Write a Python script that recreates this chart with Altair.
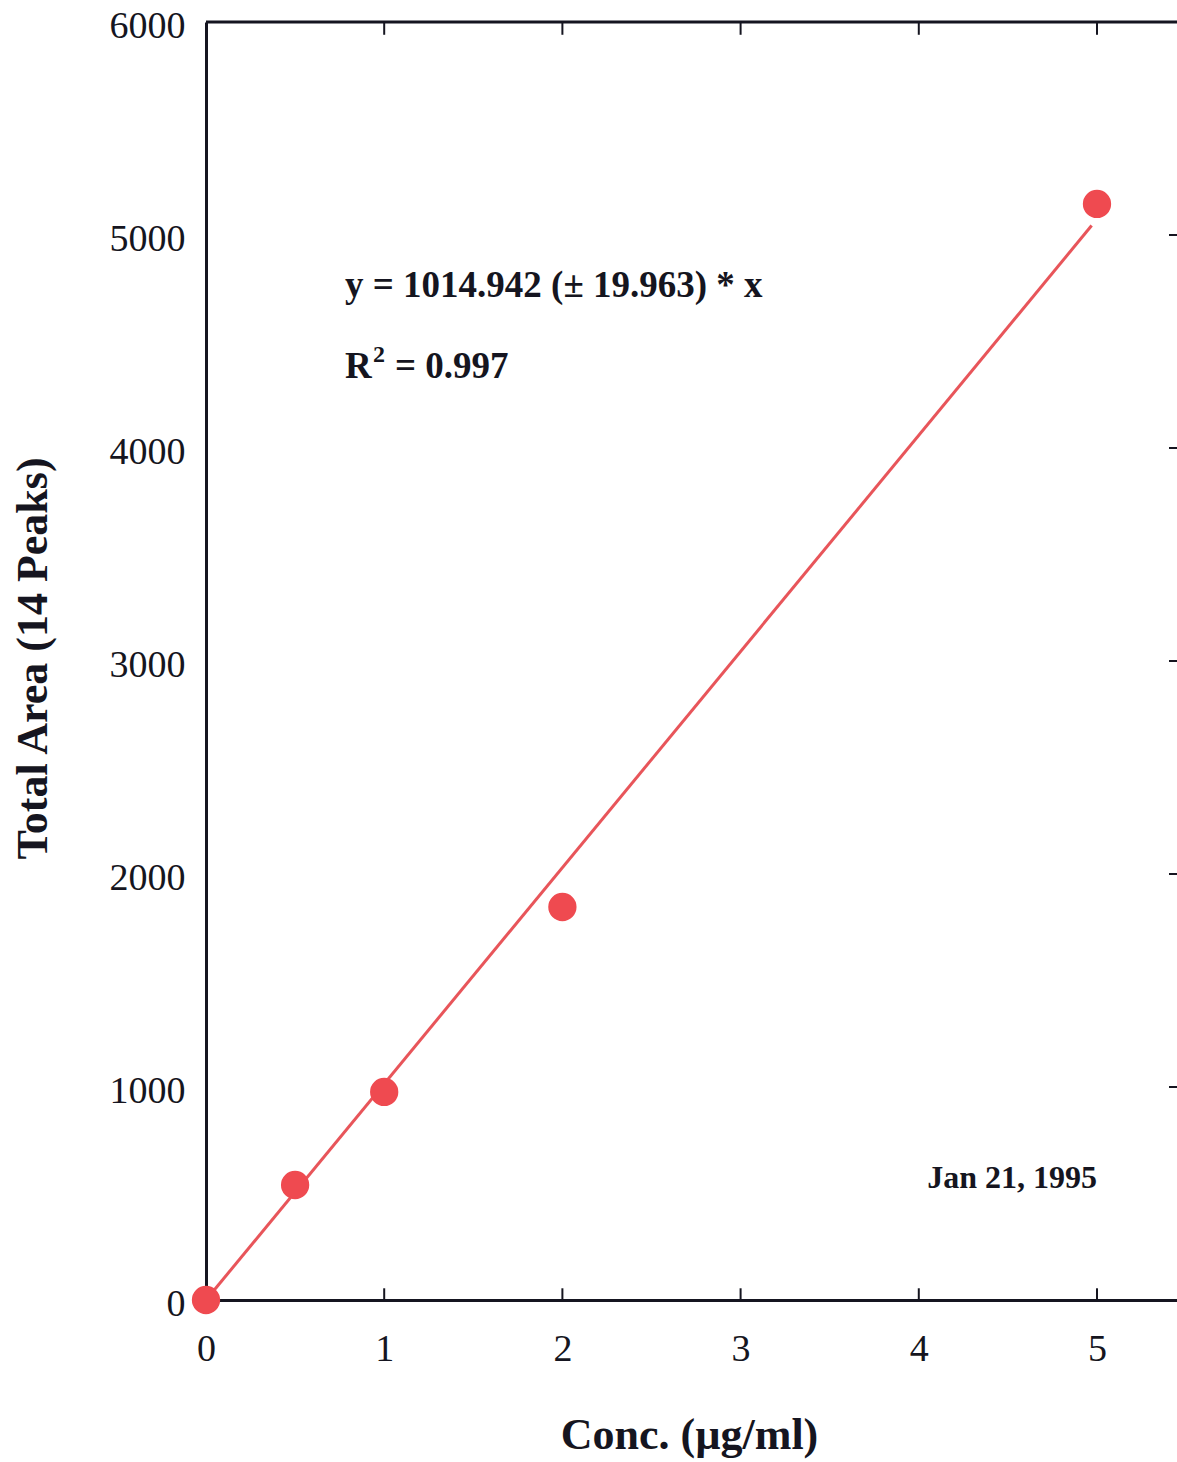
import altair as alt
import pandas as pd

conc = [0, 0.5, 1, 2, 5]
area = [0, 540, 977, 1845, 5146]
slope = 1014.942
fit_x = [0, 4.97]
x_ticks = [0, 1, 2, 3, 4, 5]
y_ticks = [0, 1000, 2000, 3000, 4000, 5000, 6000]
inner_x_ticks = [1, 2, 3, 4, 5]
inner_y_ticks = [1000, 2000, 3000, 4000, 5000]
XMAX = 5.449
YMAX = 6000

FONT = "Liberation Serif"
INK = "#151520"
RED = "#ef4a50"

pts = pd.DataFrame({"x": conc, "y": area})
fit = pd.DataFrame({"x": fit_x, "y": [slope * v for v in fit_x]})

xs = alt.Scale(domain=[0, XMAX], nice=False, zero=False)
ys = alt.Scale(domain=[0, YMAX], nice=False, zero=False)

xaxis = alt.Axis(values=x_ticks, format="d", ticks=False, grid=False, domainColor=INK, domainWidth=3,
                 labelFont=FONT, labelFontSize=38, labelColor=INK, labelPadding=30,
                 title="Conc. (µg/ml)", titleFont=FONT, titleFontSize=44, titleFontWeight="bold",
                 titleColor=INK, titleX=483, titleY=135, titleBaseline="middle", titleAlign="center",
                 labelFlush=False)
yaxis = alt.Axis(values=y_ticks, format="d", ticks=False, grid=False, domainColor=INK, domainWidth=3,
                 labelFont=FONT, labelFontSize=38, labelColor=INK, labelPadding=21, labelOffset=4,
                 title="Total Area (14 Peaks)", titleFont=FONT, titleFontSize=44, titleFontWeight="bold",
                 titleColor=INK, titleX=-173, titleY=636, titleBaseline="middle", titleAlign="center",
                 labelFlush=False)

line = alt.Chart(fit).mark_line(color="#e8555a", strokeWidth=3).encode(
    x=alt.X("x:Q", scale=xs, axis=xaxis), y=alt.Y("y:Q", scale=ys, axis=yaxis))

points = alt.Chart(pts).mark_circle(color=RED, size=800, opacity=1).encode(
    x=alt.X("x:Q", scale=xs), y=alt.Y("y:Q", scale=ys))

top_border = alt.Chart(pd.DataFrame({"x": [0], "x2": [XMAX], "y": [YMAX]})).mark_rule(
    color=INK, strokeWidth=3).encode(x=alt.X("x:Q", scale=xs), x2="x2:Q", y=alt.Y("y:Q", scale=ys))

top_ticks = alt.Chart(pd.DataFrame({"x": inner_x_ticks, "y": [YMAX] * 5, "y2": [YMAX - 60] * 5})).mark_rule(
    color=INK, strokeWidth=2).encode(x=alt.X("x:Q", scale=xs), y=alt.Y("y:Q", scale=ys), y2="y2:Q")

bot_ticks = alt.Chart(pd.DataFrame({"x": inner_x_ticks, "y": [0] * 5, "y2": [55] * 5})).mark_rule(
    color=INK, strokeWidth=2).encode(x=alt.X("x:Q", scale=xs), y=alt.Y("y:Q", scale=ys), y2="y2:Q")

right_ticks = alt.Chart(pd.DataFrame({"x": [XMAX - 0.045] * 5, "x2": [XMAX] * 5, "y": inner_y_ticks})).mark_rule(
    color=INK, strokeWidth=2).encode(x=alt.X("x:Q", scale=xs), x2="x2:Q", y=alt.Y("y:Q", scale=ys))

ann_x = [0.78, 5.0]
ann_y = [4710, 4330, 526]
eq_df = pd.DataFrame({"x": [ann_x[0]], "y": [ann_y[0]], "t": ["y = 1014.942 (± 19.963) * x"]})
r_df = pd.DataFrame({"x": [ann_x[0]], "y": [ann_y[1]], "t": ["R"]})
r2_df = pd.DataFrame({"x": [ann_x[0]], "y": [ann_y[1]], "t": ["2"]})
rv_df = pd.DataFrame({"x": [ann_x[0]], "y": [ann_y[1]], "t": ["= 0.997"]})
date_df = pd.DataFrame({"x": [ann_x[1]], "y": [ann_y[2]], "t": ["Jan 21, 1995"]})


def txt(df, size, align="left", dx=0, dy=0):
    return alt.Chart(df).mark_text(font=FONT, fontWeight="bold", fontSize=size, color=INK,
                                   align=align, baseline="alphabetic", dx=dx, dy=dy).encode(
        x=alt.X("x:Q", scale=xs), y=alt.Y("y:Q", scale=ys), text="t:N")


eq = txt(eq_df, 37)
r = txt(r_df, 37)
r2 = txt(r2_df, 24, dx=28, dy=-16)
rv = txt(rv_df, 37, dx=50)
date = txt(date_df, 32, align="right")

chart = alt.layer(line, top_border, top_ticks, bot_ticks, right_ticks, points, eq, r, r2, rv, date).properties(
    width=971, height=1278, autosize=alt.AutoSizeParams(type="none"),
    padding={"left": 206, "top": 22, "right": 0, "bottom": 162},
).configure_view(stroke=None).configure(background="white")

chart.save("out.html", embed_options={"renderer": "svg", "actions": False})
